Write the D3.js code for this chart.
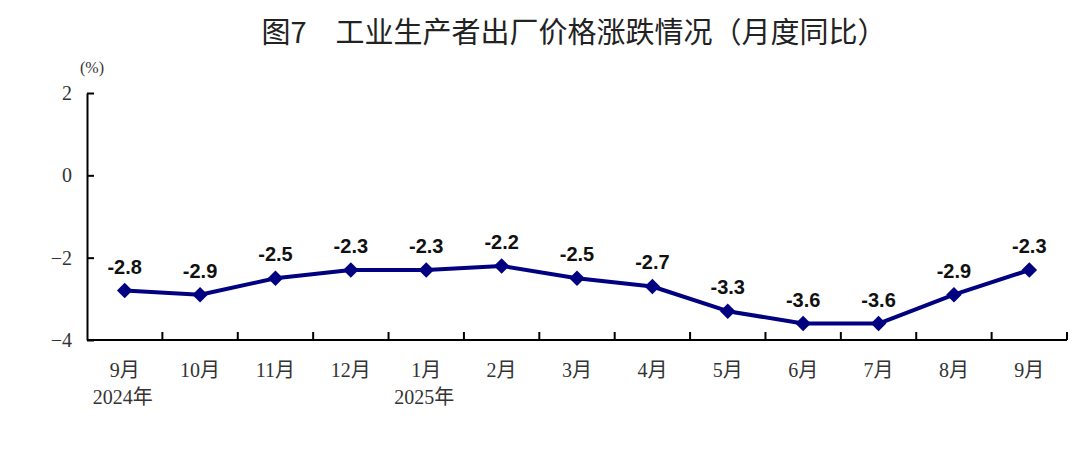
<!DOCTYPE html>
<html>
<head>
<meta charset="utf-8">
<script src="https://cdn.jsdelivr.net/npm/d3@7"></script>
<style>
  body { margin: 0; background: #fff; }
  svg text { fill: #333; }
</style>
</head>
<body>
<div id="chart"></div>
<script>
const months = ['9月', '10月', '11月', '12月', '1月', '2月', '3月', '4月', '5月', '6月', '7月', '8月', '9月']
const years = ['2024年', '', '', '', '2025年', '', '', '', '', '', '', '', '']
const values = [-2.8, -2.9, -2.5, -2.3, -2.3, -2.2, -2.5, -2.7, -3.3, -3.6, -3.6, -2.9, -2.3]
const yTicks = [2, 0, -2, -4]

const width = 1080
const height = 472
const plotLeft = 87, plotRight = 1067, plotTop = 93, plotBottom = 340

const svg = d3.select('#chart')
    .append('svg')
    .attr('width', width)
    .attr('height', height)

//title
svg.append('text')
    .attr('x', 574)
    .attr('y', 43)
    .attr('text-anchor', 'middle')
    .style('font-family', '"Noto Sans CJK SC", sans-serif')
    .style('font-size', '29px')
    .style('font-weight', 400)
    .style('fill', '#222')
    .text('图7　工业生产者出厂价格涨跌情况（月度同比）')

//scales
const x = d3.scaleBand()
    .domain(d3.range(values.length))
    .range([plotLeft, plotRight])
const y = d3.scaleLinear()
    .domain([-4, 2])
    .range([plotBottom, plotTop])

//y axis
const yAxis = d3.axisLeft(y)
    .tickValues(yTicks)
    .tickSizeInner(-7)
    .tickSizeOuter(0)
    .tickPadding(15)
    .tickFormat((d) => d < 0 ? '\u2212' + Math.abs(d) : d)
const gy = svg.append('g')
    .attr('transform', `translate(${plotLeft},0)`)
    .call(yAxis)
gy.select('.domain').attr('stroke', '#000').attr('stroke-width', 2)
gy.selectAll('.tick line').attr('stroke', '#000').attr('stroke-width', 2)
gy.selectAll('.tick text')
    .style('font-family', '"Liberation Serif", serif')
    .style('font-size', '20px')
    .style('fill', '#333')

svg.append('text')
    .attr('x', 92)
    .attr('y', 73)
    .attr('text-anchor', 'middle')
    .style('font-family', '"Liberation Serif", serif')
    .style('font-size', '16px')
    .text('(%)')

//x axis
const gx = svg.append('g')
    .attr('transform', `translate(0,${plotBottom})`)
gx.append('line')
    .attr('x1', plotLeft).attr('x2', plotRight)
    .attr('stroke', '#000').attr('stroke-width', 2)
gx.selectAll('.xtick')
    .data(d3.range(values.length))
    .enter()
    .append('line')
    .attr('class', 'xtick')
    .attr('x1', (d) => x(d) + x.bandwidth())
    .attr('x2', (d) => x(d) + x.bandwidth())
    .attr('y1', 0).attr('y2', -8)
    .attr('stroke', '#000').attr('stroke-width', 2)

const labels = svg.append('g')
    .style('font-family', '"Liberation Serif", "Noto Sans CJK SC", serif')
    .style('font-size', '20px')
labels.selectAll('.month')
    .data(months)
    .enter()
    .append('text')
    .attr('class', 'month')
    .attr('x', (d, i) => x(i) + x.bandwidth() / 2)
    .attr('y', 377)
    .attr('text-anchor', 'middle')
    .text((d) => d)
labels.selectAll('.year')
    .data(years)
    .enter()
    .append('text')
    .attr('class', 'year')
    .attr('x', (d, i) => x(i) + x.bandwidth() / 2 - 2)
    .attr('y', 404)
    .attr('text-anchor', 'middle')
    .text((d) => d)

//line
const line = d3.line()
    .x((d, i) => x(i) + x.bandwidth() / 2)
    .y((d) => y(d))
svg.append('path')
    .datum(values)
    .attr('fill', 'none')
    .attr('stroke', '#000080')
    .attr('stroke-width', 4)
    .attr('stroke-linejoin', 'round')
    .attr('d', line)

svg.selectAll('.marker')
    .data(values)
    .enter()
    .append('path')
    .attr('class', 'marker')
    .attr('d', d3.symbol().type(d3.symbolSquare).size(120))
    .attr('transform', (d, i) => `translate(${x(i) + x.bandwidth() / 2},${y(d)}) rotate(45)`)
    .attr('fill', '#000080')

svg.selectAll('.vlabel')
    .data(values)
    .enter()
    .append('text')
    .attr('class', 'vlabel')
    .attr('x', (d, i) => x(i) + x.bandwidth() / 2)
    .attr('y', (d) => y(d) - 17)
    .attr('text-anchor', 'middle')
    .style('font-family', '"Liberation Sans", Arial, sans-serif')
    .style('font-size', '20px')
    .style('font-weight', 'bold')
    .style('fill', '#111')
    .text((d) => d.toFixed(1))
</script>
</body>
</html>
